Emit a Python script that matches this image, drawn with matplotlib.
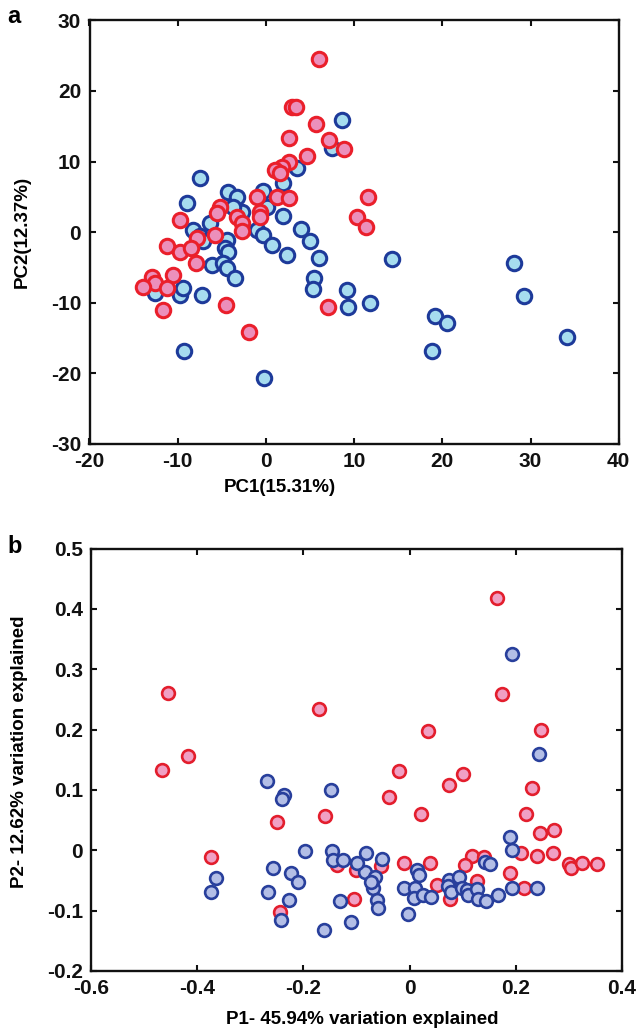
import matplotlib
matplotlib.use("Agg")
import matplotlib.pyplot as plt
import numpy as np

plt.rcParams['font.family'] = ['Liberation Sans', 'DejaVu Sans']
plt.rcParams['font.weight'] = 'bold'
plt.rcParams['axes.unicode_minus'] = False

# ---------------- Panel a data (PC1, PC2) ----------------
a_red_x = [6.05, 2.96, 3.41, 5.65, 2.65, 7.12, 8.85, 4.63, 2.65, 1.79, 1.03, 1.6,
           -0.98, 1.22, 2.65, -0.67, -0.67, -5.2, -5.58, -3.31, -2.74, -2.74, -5.77,
           -9.74, -7.85, -11.25, -9.74, -8.53, -7.93, -10.57, -12.95, -12.57, -13.9,
           -11.18, -11.63, -4.52, 7.07, 11.61, 10.36, 11.35, -1.92]
a_red_y = [24.5, 17.7, 17.7, 15.3, 13.4, 13.0, 11.8, 10.8, 10.0, 9.3, 8.8, 8.4,
           5.0, 5.0, 4.8, 2.9, 2.2, 3.6, 2.7, 2.2, 1.3, 0.1, -0.4,
           1.7, -0.85, -1.9, -2.75, -2.3, -4.4, -6.05, -6.3, -7.2, -7.7,
           -7.85, -11.0, -10.3, -10.6, 5.0, 2.1, 0.8, -14.2]

a_blue_x = [8.66, 7.53, 3.49, 1.9, -7.47, -4.26, -3.31, -0.3, 0.09, -8.98, -2.74, -3.7,
            1.9, -6.34, -8.23, -7.47, -7.1, -1.04, -0.3, 0.66, -4.44, -4.64, -4.26,
            3.95, 5.0, 6.05, 2.36, -6.15, -4.83, -4.44, -3.5, 5.45, 5.3, -12.57,
            -9.74, -9.37, -7.28, 9.16, 9.34, 11.8, 14.26, 28.13, 29.26, 19.2, 20.57,
            18.87, 34.17, -9.25, -0.2]
a_blue_y = [15.9, 11.9, 9.1, 6.9, 7.7, 5.75, 5.0, 5.9, 3.6, 4.2, 2.9, 3.6,
            2.3, 1.3, 0.3, -0.6, -1.3, 0.3, -0.4, -1.8, -1.1, -2.3, -2.75,
            0.4, -1.3, -3.7, -3.2, -4.6, -4.4, -5.1, -6.5, -6.5, -8.1, -8.6,
            -8.9, -7.9, -8.9, -8.2, -10.6, -10.0, -3.8, -4.4, -9.0, -11.9, -12.8,
            -16.8, -14.8, -16.8, -20.7]

a_xticks = [-20, -10, 0, 10, 20, 30, 40]
a_yticks = [-30, -20, -10, 0, 10, 20, 30]

# ---------------- Panel b data (P1, P2) ----------------
b_red_x = [-0.455, -0.417, -0.466, -0.170, -0.159, -0.249, -0.039, 0.164, 0.175, 0.248,
           0.035, 0.230, -0.019, 0.100, 0.074, 0.021, 0.220, 0.246, 0.273, 0.211,
           0.241, 0.270, 0.301, 0.304, 0.325, 0.353, 0.189, 0.216, -0.010, 0.039,
           0.117, 0.140, 0.105, 0.052, 0.076, 0.127, -0.054, -0.375, -0.244, -0.136,
           -0.104, -0.101]
b_red_y = [0.261, 0.156, 0.133, 0.234, 0.057, 0.046, 0.089, 0.418, 0.259, 0.200,
           0.197, 0.103, 0.132, 0.126, 0.108, 0.060, 0.060, 0.029, 0.033, -0.004,
           -0.010, -0.004, -0.023, -0.030, -0.022, -0.023, -0.038, -0.062, -0.021, -0.021,
           -0.010, -0.011, -0.025, -0.058, -0.081, -0.051, -0.027, -0.012, -0.102, -0.025,
           -0.081, -0.033]

b_blue_x = [-0.268, -0.237, -0.240, -0.148, 0.193, 0.244, 0.189, 0.193, -0.082, -0.051,
            -0.084, -0.065, -0.068, -0.061, -0.059, 0.0135, 0.018, -0.010, 0.010, 0.008,
            0.026, 0.040, -0.002, 0.075, 0.073, 0.094, 0.078, 0.098, 0.108, 0.111,
            0.127, 0.130, 0.145, 0.167, 0.193, 0.241, 0.142, 0.152, -0.197, -0.257,
            -0.223, -0.210, -0.266, -0.227, -0.243, -0.161, -0.147, -0.144, -0.125, -0.131,
            -0.111, -0.100, -0.073, -0.364, -0.375]
b_blue_y = [0.115, 0.092, 0.085, 0.100, 0.325, 0.159, 0.022, 0.001, -0.004, -0.015,
            -0.036, -0.045, -0.062, -0.083, -0.096, -0.033, -0.041, -0.063, -0.062, -0.080,
            -0.074, -0.078, -0.105, -0.049, -0.059, -0.045, -0.069, -0.062, -0.066, -0.074,
            -0.065, -0.081, -0.084, -0.074, -0.062, -0.062, -0.019, -0.023, -0.001, -0.030,
            -0.038, -0.052, -0.069, -0.083, -0.116, -0.132, -0.002, -0.016, -0.016, -0.085,
            -0.119, -0.022, -0.052, -0.046, -0.069]

b_xticks = [-0.6, -0.4, -0.2, 0, 0.2, 0.4]
b_xticklabels = ['-0.6', '-0.4', '-0.2', '0', '0.2', '0.4']
b_yticks = [-0.2, -0.1, 0, 0.1, 0.2, 0.3, 0.4, 0.5]
b_yticklabels = ['-0.2', '-0.1', '0', '0.1', '0.2', '0.3', '0.4', '0.5']

W, H = 639, 1031
fig = plt.figure(figsize=(W / 100, H / 100), dpi=100)

def px_axes(l, t, r, b):
    return fig.add_axes([l / W, 1 - b / H, (r - l) / W, (b - t) / H])

def style(ax):
    for s in ax.spines.values():
        s.set_linewidth(1.7)
        s.set_color('#111111')
    ax.tick_params(direction='in', top=True, right=True, length=4, width=1.5,
                   labelsize=15, pad=6, colors='#111111')
    for lbl in ax.get_xticklabels() + ax.get_yticklabels():
        lbl.set_fontweight('bold')

# Panel a
axa = px_axes(89.5, 20.4, 618.7, 444)
axa.scatter(a_blue_x, a_blue_y, s=108, facecolor='#a6dcef', edgecolor='#1d3a9a',
            linewidths=2.2, zorder=2)
axa.scatter(a_red_x, a_red_y, s=108, facecolor='#ec8fbb', edgecolor='#ea1f2b',
            linewidths=2.2, zorder=3)
axa.set_xlim(-20, 40)
axa.set_ylim(-30, 30)
axa.set_xticks(a_xticks)
axa.set_yticks(a_yticks)
style(axa)

# Panel b
axb = px_axes(91.3, 548.7, 621.7, 970.8)
axb.scatter(b_red_x, b_red_y, s=84, facecolor='#f0a0c4', edgecolor='#e31e2d',
            linewidths=1.9, zorder=2)
axb.scatter(b_blue_x, b_blue_y, s=84, facecolor='#b3bee6', edgecolor='#283f9c',
            linewidths=1.9, zorder=3)
axb.set_xlim(-0.6, 0.4)
axb.set_ylim(-0.2, 0.5)
axb.set_xticks(b_xticks)
axb.set_xticklabels(b_xticklabels)
axb.set_yticks(b_yticks)
axb.set_yticklabels(b_yticklabels)
style(axb)

# Labels
fig.text(7 / W, 1 - 23 / H, 'a', fontsize=17, fontweight='bold', ha='left', va='baseline')
fig.text(7 / W, 1 - 553 / H, 'b', fontsize=17, fontweight='bold', ha='left', va='baseline')
fig.text(22 / W, 1 - 232 / H, 'PC2(12.37%)', rotation=90, fontsize=13.5,
         fontweight='bold', ha='center', va='center')
fig.text(280 / W, 1 - 488 / H, 'PC1(15.31%)', fontsize=13.5,
         fontweight='bold', ha='center', va='center')
fig.text(20 / W, 1 - 752 / H, 'P2- 12.62% variation explained', rotation=90, fontsize=13.5,
         fontweight='bold', ha='center', va='center')
fig.text(362 / W, 1 - 1019 / H, 'P1- 45.94% variation explained', fontsize=13.5,
         fontweight='bold', ha='center', va='center')

fig.savefig('out.png', dpi=100)
